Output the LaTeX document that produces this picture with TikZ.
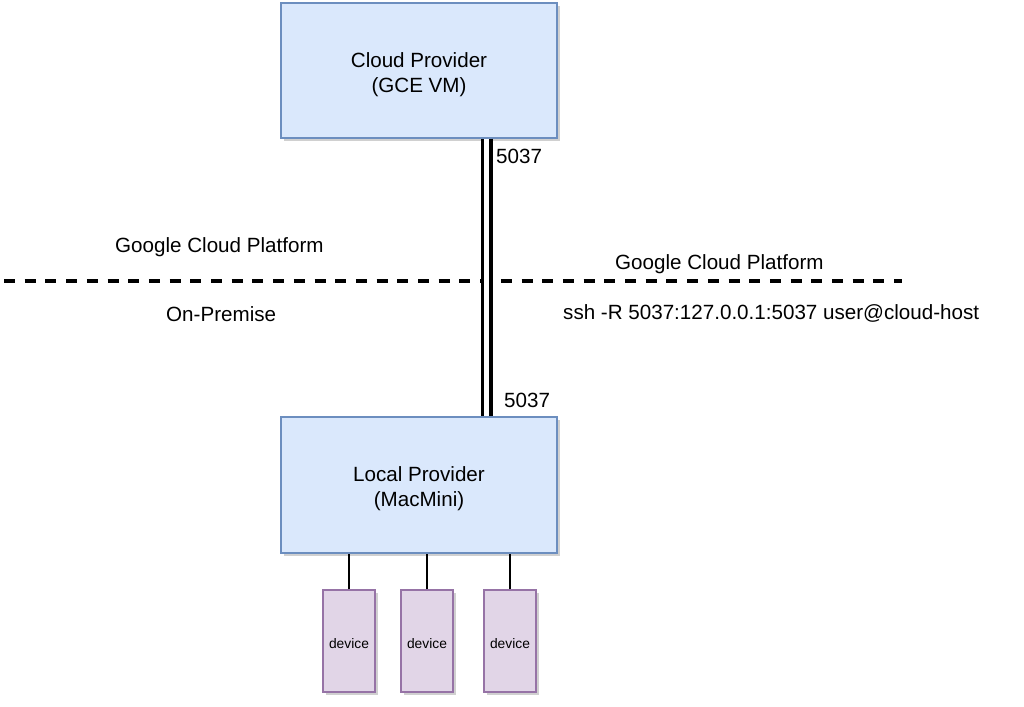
\documentclass[tikz,border=0pt]{standalone}
\usepackage{fontspec}
\setmainfont{Liberation Sans}
\usetikzlibrary{shadows}
\definecolor{cfill}{HTML}{DAE8FC}
\definecolor{cdraw}{HTML}{6C8EBF}
\definecolor{dfill}{HTML}{E1D5E7}
\definecolor{ddraw}{HTML}{9673A6}
\begin{document}
\begin{tikzpicture}[x=1pt,y=-1pt,
  boxshadow/.style={drop shadow={shadow xshift=3pt, shadow yshift=-3pt, opacity=0.3, fill=black!60}},
  provider/.style={draw=cdraw, fill=cfill, line width=1.3pt, minimum width=276pt, minimum height=135pt,
    align=center, inner sep=0pt, font=\fontsize{20.6}{25}\selectfont, boxshadow},
  device/.style={draw=ddraw, fill=dfill, line width=1.3pt, minimum width=52pt, minimum height=102pt,
    inner sep=0pt, font=\fontsize{13.8}{16}\selectfont, boxshadow},
  lbl/.style={inner sep=0pt, font=\fontsize{20.6}{24}\selectfont},
  tunnel/.style={double, line width=3.5pt, double distance=5pt},
  link/.style={line width=1.3pt},
  divider/.style={line width=4pt, dash pattern=on 11pt off 9.7pt}]
\useasboundingbox (0,0) rectangle (1024,706);
\fill[white] (0,0) rectangle (1024,706);

% divider
\coordinate (dl) at (4,280.5);
\coordinate (dr) at (902,280.5);
\draw[divider] (dl) -- (dr);

% boxes
\node[provider] (cloud) at (419,70.5) {\rule{0pt}{23pt}Cloud Provider\\(GCE VM)};
\node[provider, minimum height=136pt] (local) at (419,485) {\rule{0pt}{22pt}Local Provider\\(MacMini)};

\node[device] (d1) at (349,641) {\rule{0pt}{16pt}device};
\node[device] (d2) at (427,641) {\rule{0pt}{16pt}device};
\node[device] (d3) at (510,641) {\rule{0pt}{16pt}device};

% tunnel
\draw[tunnel] ([xshift=67.5pt]cloud.south) -- ([xshift=67.5pt]local.north);

% device links
\draw[link] (d1.north) -- (d1.north |- local.south);
\draw[link] (d2.north) -- (d2.north |- local.south);
\draw[link] (d3.north) -- (d3.north |- local.south);

% labels
\node[lbl, anchor=west] (p1) at (496,156.5) {5037};
\node[lbl, anchor=west] (p2) at (504,400) {5037};
\node[lbl, anchor=base west] (gcpl) at (115,252) {Google Cloud Platform};
\node[lbl, anchor=base west] (gcpr) at (615,269) {Google Cloud Platform};
\node[lbl, anchor=base west] (onprem) at (166,321) {On-Premise};
\node[lbl, anchor=base west] (ssh) at (563,319) {ssh -R 5037:127.0.0.1:5037 user@cloud-host};
\end{tikzpicture}
\end{document}
